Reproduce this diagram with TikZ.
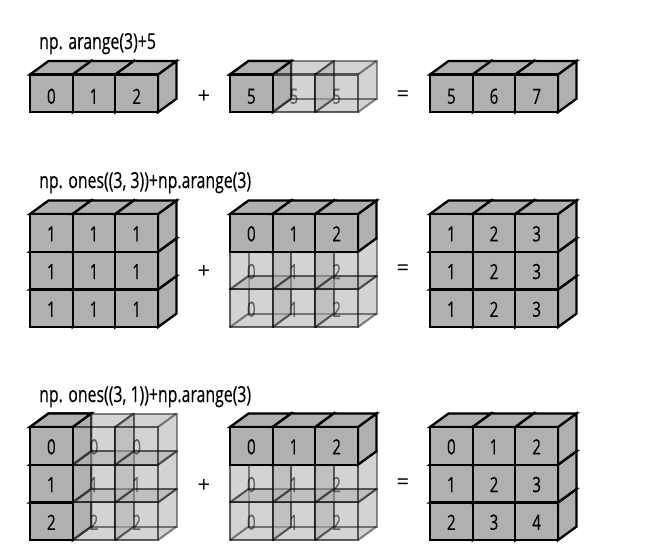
\documentclass[tikz,border=0pt]{standalone}
\usepackage{fontspec}
\setmainfont[FakeStretch=0.72,FakeBold=0.25]{Open Sans}
\newfontfamily\opfont{Open Sans}
\definecolor{cubegray}{HTML}{B0B0B0}
\newcommand\labelfont{\fontsize{21}{24}\selectfont}
\newcommand\titlefont{\fontsize{22}{26}\selectfont}
% local cube geometry, in px: front 42.67 x 37.7, depth (18.5,-13.5)
\newcommand\Cw{42.67}
\newcommand\Ch{37.7}
\newcommand\Ldy{1}
\newcommand\SolidFace[3]{%
  \begin{scope}[shift={(#1,#2)}]
    \draw[solidedge,fill=cubegray] (0,0) -- (\Cw,0) -- (\Cw,\Ch) -- (0,\Ch) -- cycle;
    \node[cubelabel] (s#1x#2f) at (\Cw/2,\Ch/2+\Ldy) {#3};
  \end{scope}}
\newcommand\SolidTop[2]{%
  \begin{scope}[shift={(#1,#2)}]
    \draw[solidedge,fill=cubegray] (0,0) -- (18.5,-13.5) -- (\Cw+18.5,-13.5) -- (\Cw,0) -- cycle;
  \end{scope}}
\newcommand\Solid[3]{%
  \begin{scope}[shift={(#1,#2)}]
    \draw[solidedge,fill=cubegray] (\Cw,0) -- (\Cw+18.5,-13.5) -- (\Cw+18.5,\Ch-13.5) -- (\Cw,\Ch) -- cycle;
  \end{scope}
  \SolidTop{#1}{#2}\SolidFace{#1}{#2}{#3}}
\newcommand\Ghost[3]{%
  \begin{scope}[shift={(#1,#2)}]
    \fill[cubegray,fill opacity=.55] (0,0) -- (18.5,-13.5) -- (\Cw+18.5,-13.5) -- (\Cw+18.5,\Ch-13.5) -- (\Cw,\Ch) -- (0,\Ch) -- cycle;
    \draw[hiddenedge] (18.5,-13.5) -- (\Cw+18.5,-13.5) -- (\Cw+18.5,\Ch-13.5) -- (18.5,\Ch-13.5) -- cycle;
    \draw[hiddenedge] (0,0) -- (18.5,-13.5) (\Cw,0) -- (\Cw+18.5,-13.5) (\Cw,\Ch) -- (\Cw+18.5,\Ch-13.5) (0,\Ch) -- (18.5,\Ch-13.5);
    \draw[ghostedge] (0,0) -- (\Cw,0) -- (\Cw,\Ch) -- (0,\Ch) -- cycle;
    \node[cubelabel,text opacity=.5] (g#1x#2) at (\Cw/2,\Ch/2+\Ldy) {#3};
  \end{scope}}
\tikzset{
  solidedge/.style={draw=black,line width=2.3pt,line join=miter},
  ghostedge/.style={draw=black,draw opacity=.6,line width=2.1pt},
  hiddenedge/.style={draw=black,draw opacity=.45,line width=2pt},
  cubelabel/.style={inner sep=0pt,font=\labelfont,text=black},
  title/.style={anchor=base west,inner sep=0pt,font=\titlefont},
  op/.style={inner sep=0pt,font=\opfont\fontsize{22}{26}\selectfont}
}
\begin{document}
\begin{tikzpicture}[x=1pt,y=-1pt]
\useasboundingbox (0,0) rectangle (652,549);
\fill[white] (0,0) rectangle (652,549);
% ---------- first line
\renewcommand\Ldy{3}
\node[title] (t1) at (39,49) {np. arange(3)+5};
\Solid{30}{74.5}{0}\Solid{72.67}{74.5}{1}\Solid{115.33}{74.5}{2}
\node[op] (p1) at (204,97) {+};
\Solid{230}{74.5}{5}
\Ghost{272.67}{74.5}{5}\Ghost{315.33}{74.5}{5}
\SolidTop{230}{74.5}\SolidFace{230}{74.5}{5}
\node[op] (e1) at (403,96) {=};
\Solid{430}{74.5}{5}\Solid{472.67}{74.5}{6}\Solid{515.33}{74.5}{7}
\renewcommand\Ldy{1}
% ---------- second line
\node[title] (t2) at (39,188) {np. ones((3, 3))+np.arange(3)};
\Solid{30}{289.4}{1}\Solid{72.67}{289.4}{1}\Solid{115.33}{289.4}{1}
\Solid{30}{251.7}{1}\Solid{72.67}{251.7}{1}\Solid{115.33}{251.7}{1}
\Solid{30}{214}{1}\Solid{72.67}{214}{1}\Solid{115.33}{214}{1}
\node[op] (p2) at (204,272) {+};
\Ghost{230}{289.4}{0}\Ghost{272.67}{289.4}{1}\Ghost{315.33}{289.4}{2}
\Ghost{230}{251.7}{0}\Ghost{272.67}{251.7}{1}\Ghost{315.33}{251.7}{2}
\Solid{230}{214}{0}\Solid{272.67}{214}{1}\Solid{315.33}{214}{2}
\node[op] (e2) at (403,270) {=};
\Solid{430}{289.4}{1}\Solid{472.67}{289.4}{2}\Solid{515.33}{289.4}{3}
\Solid{430}{251.7}{1}\Solid{472.67}{251.7}{2}\Solid{515.33}{251.7}{3}
\Solid{430}{214}{1}\Solid{472.67}{214}{2}\Solid{515.33}{214}{3}
% ---------- third line
\node[title] (t3) at (39,402) {np. ones((3, 1))+np.arange(3)};
\Solid{30}{502.4}{2}\Ghost{72.67}{502.4}{2}\Ghost{115.33}{502.4}{2}
\Solid{30}{464.7}{1}\Ghost{72.67}{464.7}{1}\Ghost{115.33}{464.7}{1}
\Solid{30}{427}{0}\Ghost{72.67}{427}{0}\Ghost{115.33}{427}{0}
\SolidTop{30}{427}
\SolidFace{30}{502.4}{2}\SolidFace{30}{464.7}{1}\SolidFace{30}{427}{0}
\node[op] (p3) at (204,486) {+};
\Ghost{230}{502.4}{0}\Ghost{272.67}{502.4}{1}\Ghost{315.33}{502.4}{2}
\Ghost{230}{464.7}{0}\Ghost{272.67}{464.7}{1}\Ghost{315.33}{464.7}{2}
\Solid{230}{427}{0}\Solid{272.67}{427}{1}\Solid{315.33}{427}{2}
\node[op] (e3) at (403,484) {=};
\Solid{430}{502.4}{2}\Solid{472.67}{502.4}{3}\Solid{515.33}{502.4}{4}
\Solid{430}{464.7}{1}\Solid{472.67}{464.7}{2}\Solid{515.33}{464.7}{3}
\Solid{430}{427}{0}\Solid{472.67}{427}{1}\Solid{515.33}{427}{2}
\end{tikzpicture}
\end{document}
